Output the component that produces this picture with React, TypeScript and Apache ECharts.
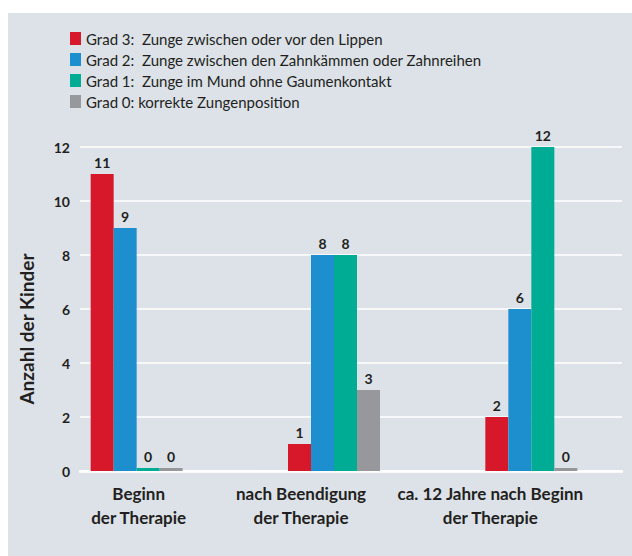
import React, { useEffect, useRef } from "react";
import * as echarts from "echarts";

const categories = [
  "Beginn\nder Therapie",
  "nach Beendigung\nder Therapie",
  "ca. 12 Jahre nach Beginn\nder Therapie",
];
const seriesNames = [
  "Grad 3:\u00a0 Zunge zwischen oder vor den Lippen",
  "Grad 2:\u00a0 Zunge zwischen den Zahnkämmen oder Zahnreihen",
  "Grad 1:\u00a0 Zunge im Mund ohne Gaumenkontakt",
  "Grad 0: korrekte Zungenposition",
];
const grad3 = [11, 1, 2];
const grad2 = [9, 8, 6];
const grad1 = [0, 8, 12];
const grad0 = [0, 3, 0];
const colors = ["#d7182a", "#1e8fce", "#00ad94", "#97989c"];
const yTicks = { min: 0, max: 12, interval: 2 };
const labelShift = [2, -33, -41];

const FONT = "Lato, 'Open Sans', sans-serif";
const TXT = "#231f20";

export default function App() {
  const ref = useRef<HTMLDivElement>(null);
  useEffect(() => {
    if (!ref.current) return;
    const chart = echarts.init(ref.current, undefined, { renderer: "svg" });
    const rich: any = {};
    labelShift.forEach((s, i) => {
      rich["l" + i] = {
        fontFamily: FONT,
        fontWeight: "bold",
        fontSize: 17,
        color: TXT,
        lineHeight: 24,
        padding: s >= 0 ? [0, 0, 0, 2 * s] : [0, -2 * s, 0, 0],
      };
    });
    const data = [grad3, grad2, grad1, grad0];
    chart.setOption({
      animation: false,
      backgroundColor: "transparent",
      textStyle: { fontFamily: FONT },
      legend: {
        orient: "vertical",
        left: 65,
        top: 26,
        itemWidth: 11,
        itemHeight: 13,
        itemGap: 6,
        icon: "rect",
        selectedMode: false,
        textStyle: { fontFamily: FONT, fontSize: 15, color: TXT },
        data: seriesNames,
      },
      grid: [
        { left: 80, right: 10, top: 147, bottom: 85, outerBoundsMode: "none", containLabel: false },
        { left: 38, right: 2, top: 147, bottom: 85, outerBoundsMode: "none", containLabel: false },
      ],
      xAxis: [
        {
          gridIndex: 0,
          type: "value",
          show: true,
          axisLabel: { show: false },
          axisTick: { show: false },
          splitLine: { show: false },
          axisLine: { show: true, lineStyle: { color: "#ffffff", width: 2.5 } },
        },
        {
          gridIndex: 1,
          type: "category",
          data: categories,
          axisLine: { show: false },
          axisTick: { show: false },
          axisLabel: {
            interval: 0,
            margin: 10,
            hideOverlap: false,
            formatter: (v: string, i: number) =>
              v
                .split("\n")
                .map((line) => `{l${i}|${line}}`)
                .join("\n"),
            rich,
          },
        },
      ],
      yAxis: [
        {
          gridIndex: 0,
          type: "value",
          ...yTicks,
          name: "Anzahl der Kinder",
          nameLocation: "middle",
          nameRotate: 90,
          nameGap: 44,
          nameTextStyle: {
            fontFamily: FONT,
            fontWeight: "bold",
            fontSize: 19,
            color: TXT,
            padding: [0, 40, 0, 0],
          },
          axisLine: { show: false },
          axisTick: { show: false },
          axisLabel: {
            margin: 10,
            fontFamily: FONT,
            fontWeight: "bold",
            fontSize: 14,
            color: TXT,
          },
          splitLine: { show: true, lineStyle: { color: "#ffffff", width: 1.5 } },
        },
        {
          gridIndex: 1,
          type: "value",
          ...yTicks,
          show: false,
          splitLine: { show: false },
        },
      ],
      series: seriesNames.map((name, k) => ({
        name,
        type: "bar",
        xAxisIndex: 1,
        yAxisIndex: 1,
        data: data[k],
        barWidth: 23,
        barGap: "0%",
        barMinHeight: 3,
        itemStyle: { color: colors[k] },
        label: {
          show: true,
          position: "top",
          distance: 5,
          fontFamily: FONT,
          fontWeight: "bold",
          fontSize: 14,
          color: TXT,
        },
      })),
    });
    return () => chart.dispose();
  }, []);
  return (
    <div style={{ position: "absolute", left: 0, top: 0, width: 632, height: 556, background: "#ffffff" }}>
      <div style={{ position: "absolute", left: 8, top: 13, width: 624, height: 543, background: "#dce2e8" }} />
      <div ref={ref} style={{ position: "absolute", left: 0, top: 0, width: 632, height: 556 }} />
    </div>
  );
}
